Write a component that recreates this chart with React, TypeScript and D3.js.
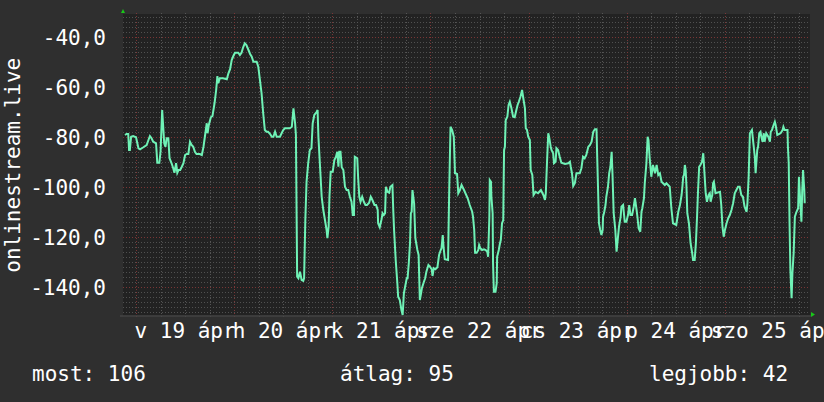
import React from 'react';
import * as d3 from 'd3';

// hours relative to 19 Apr 00:00
const hours = [
  -2.7, -2.3, -1.9, -1.7, -1.5, -1.2, -0.7, 0, 0.6, 1.0, 1.8, 2.6, 3.4, 3.8, 4.2, 4.9, 5.2, 5.7, 6.0, 6.4,
  6.7, 6.9, 7.2, 7.5, 7.9, 8.2, 8.7, 9.1, 9.4, 9.8, 10.1, 10.4, 10.8, 11.2, 11.6, 12.0, 12.4, 12.8, 13.2, 13.6,
  14.0, 14.4, 14.8, 15.6, 16.1, 16.5, 16.9, 17.3, 17.5, 17.8, 18.3, 18.7, 19.2, 19.6, 19.9, 20.1, 20.5, 21.3, 22.2, 22.6,
  23.0, 23.4, 23.8, 24.2, 25.0, 25.4, 25.8, 26.2, 26.6, 27.0, 27.5, 27.9, 28.3, 28.7, 29.5, 29.9, 30.3, 30.7, 31.1, 31.5,
  31.9, 32.3, 32.8, 33.2, 33.6, 34.0, 34.4, 35.2, 35.6, 36.0, 36.4, 37.6, 38.1, 38.5, 38.9, 39.1, 39.4, 39.7, 40.1, 40.5,
  40.9, 41.1, 41.4, 41.7, 42.1, 42.5, 42.9, 43.2, 43.6, 44.2, 44.4, 44.6, 45.0, 45.4, 45.8, 46.2, 46.6, 46.8, 47.1, 47.3,
  47.6, 48.1, 48.5, 48.9, 49.2, 49.5, 49.7, 50.0, 50.3, 50.7, 51.1, 51.5, 51.9, 52.3, 52.7, 53.0, 53.3, 53.5, 54.1, 54.3,
  54.6, 54.9, 55.3, 55.7, 56.1, 56.5, 57.0, 57.4, 57.8, 58.3, 58.7, 59.1, 59.2, 59.6, 60.0, 60.3, 60.6, 60.9, 61.1, 61.5,
  61.9, 62.2, 62.7, 62.9, 63.1, 63.5, 63.9, 64.1, 64.5, 64.9, 65.2, 65.5, 65.8, 66.2, 66.4, 66.7, 67.0, 67.2, 67.4, 67.6,
  68.0, 68.3, 68.8, 69.1, 69.4, 69.7, 69.9, 70.4, 70.7, 71.0, 71.5, 71.9, 72.3, 72.5, 72.8, 73.2, 73.7, 74.1, 74.5, 74.7,
  75.0, 75.2, 75.5, 76.3, 76.6, 76.9, 77.3, 77.7, 78.0, 78.5, 78.8, 79.2, 79.6, 80.2,
  81.1, 81.6, 82.2, 82.4, 82.7, 82.9, 83.3, 83.7, 83.9, 84.2, 84.6, 85.1, 85.5, 85.9, 86.1, 86.4, 86.5, 86.8, 86.9, 87.2,
  87.3, 87.5, 87.9, 88.2, 88.3, 88.7, 89.0, 89.2, 89.5, 89.8, 89.9, 90.0, 90.2, 90.4, 90.8, 91.1, 91.4, 91.8, 92.2, 92.6,
  93.0, 93.3, 93.6, 94.0, 94.4, 94.7, 95.1, 95.3, 95.6, 95.9, 96.3, 96.5, 96.9, 97.2, 97.7, 98.3, 99.0, 99.6, 100.0, 100.2,
  100.5, 100.8, 101.0, 101.4, 101.6, 102.0, 102.2, 102.6, 102.8, 103.2, 103.6, 104.0, 104.9, 105.7, 106.1, 106.3, 106.6, 106.9, 107.3, 107.7,
  108.5, 108.9, 109.3, 109.7, 110.1, 110.6, 111.0, 111.4, 111.8, 112.2, 112.6, 112.8, 113.2, 113.5, 113.8, 114.1, 114.2, 114.5, 114.8, 115.0,
  115.4, 115.7, 116.0, 116.3, 116.5, 116.8, 117.2, 117.5, 117.7, 118.1, 118.5, 118.7, 119.1, 119.5, 119.9, 120.3, 120.6, 120.9, 121.3, 121.7,
  122.0, 122.4, 122.6, 122.9, 123.3, 123.6, 123.8, 124.2, 124.4, 124.8, 125.1, 125.3, 125.6, 126.0, 126.4, 126.9, 127.3, 127.7, 128.1, 128.5,
  129.3, 129.7, 130.5, 130.9, 131.3, 132.1, 132.6, 133.0, 133.4, 133.6, 133.8, 134.0, 134.2, 134.4, 134.6, 134.8, 135.2, 135.6, 136.0, 136.2,
  136.6, 136.9, 137.2, 137.4, 137.7, 138.0, 138.4, 138.7, 138.9, 139.1, 139.3, 139.6, 140.0, 140.3, 140.5, 140.9, 141.1, 141.3, 141.7, 142.8,
  143.1, 143.4, 143.7, 144.0, 144.4, 144.8, 145.2, 145.6, 146.0, 146.4, 146.8, 147.2, 147.6, 148.0, 148.4, 148.8, 149.3, 149.5, 149.8, 150.1,
  150.6, 151.0, 151.3, 151.5, 151.9, 152.1, 152.4, 152.7, 152.9, 153.2, 153.5, 153.7, 154.1, 154.6, 155.0, 155.2, 155.5, 155.9, 156.2, 156.4,
  156.8, 157.6, 158.1, 158.3, 158.6, 159.3, 159.4, 159.6, 159.8, 160.0, 160.3, 160.5, 160.8, 161.1, 161.5, 161.9, 162.1, 162.4, 162.7, 162.9,
  163.1, 163.4, 163.5,
];

const values = [
  -79.2, -78.8, -78.8, -85.2, -85.2, -79.9, -79.6, -80.1, -84.5, -84.9, -84.1, -83.2, -79.6, -80.5, -81.9, -82.5, -90.3, -90.3, -85.9, -69.2,
  -77.2, -82.5, -83.9, -80.5, -80.5, -88.5, -90.5, -92.5, -94.3, -90.5, -94.3, -93.2, -93.2, -91.9, -90.5, -87.2, -86.8, -86.8, -81.9, -83.2,
  -83.9, -85.9, -86.8, -86.8, -87.2, -83.9, -79.2, -74.5, -78.5, -75.2, -72.1, -71.6, -66.5, -61.2, -55.6, -58.5, -56.5, -56.5, -56.9, -54.5,
  -52.9, -49.2, -47.6, -46.3, -46.3, -47.2, -46.3, -44.1, -42.5, -43.2, -45.2, -46.8, -47.9, -49.9, -49.9, -51.9, -57.2, -62.5, -70.5, -77.2,
  -77.9, -77.9, -78.8, -79.9, -79.9, -77.9, -79.9, -79.9, -78.5, -77.2, -76.5, -76.5, -75.9, -68.5, -74.5, -79.2, -135.9, -136.5, -133.9, -137.2,
  -137.5, -136.5, -113.2, -97.9, -90.5, -85.2, -84.5, -74.5, -71.2, -69.9, -69.2, -79.9, -91.9, -103.9, -109.2, -113.2, -117.2, -120.5, -115.9, -103.9,
  -93.9, -93.9, -89.2, -87.9, -85.9, -91.9, -85.9, -85.9, -92.1, -93.2, -99.9, -101.2, -101.2, -103.9, -105.9, -111.2, -111.2, -87.9, -88.5, -95.9,
  -103.9, -105.9, -103.9, -105.9, -107.2, -107.2, -106.3, -103.9, -105.2, -107.2, -107.2, -109.2, -114.5, -116.1, -113.2, -110.5, -111.2, -110.5, -99.9, -101.9,
  -102.3, -99.9, -99.2, -109.2, -117.2, -129.2, -138.5, -143.9, -145.2, -149.2, -151.2, -142.5, -139.9, -136.5, -136.5, -130.5, -122.5, -110.5, -109.9, -101.2,
  -106.5, -120.5, -125.2, -127.2, -145.2, -142.5, -140.5, -137.9, -136.5, -133.9, -131.2, -131.9, -132.9, -135.6, -132.5, -132.9, -132.1, -127.2, -125.2, -124.5,
  -119.2, -123.9, -128.9, -129.2, -99.9, -75.9, -77.2, -79.9, -94.5, -94.8, -102.5, -101.2, -99.2, -101.2,
  -104.5, -107.2, -109.9, -111.9, -117.2, -126.3, -126.3, -125.2, -123.2, -124.5, -125.2, -124.9, -125.2, -125.9, -127.9, -111.9, -97.2, -97.9, -103.9, -110.5,
  -130.5, -141.9, -141.9, -138.5, -127.9, -125.2, -122.5, -121.2, -114.5, -113.2, -97.2, -85.2, -83.9, -73.2, -71.9, -67.2, -65.9, -68.5, -71.9, -72.1,
  -69.2, -67.2, -65.9, -63.9, -61.2, -64.5, -68.5, -76.5, -77.2, -79.9, -81.2, -93.2, -95.2, -103.2, -101.9, -102.5, -101.2, -103.2, -105.2, -102.5,
  -89.9, -78.5, -79.9, -83.9, -85.2, -86.5, -90.5, -89.9, -84.5, -85.2, -87.9, -90.3, -90.8, -90.5, -89.9, -91.9, -94.5, -99.6, -98.5, -94.5,
  -94.5, -92.5, -87.9, -88.5, -87.2, -83.9, -83.2, -81.9, -77.9, -76.9, -76.9, -89.9, -114.5, -117.2, -119.2, -117.2, -111.9, -109.9, -107.2, -103.9,
  -99.9, -94.5, -91.9, -85.9, -94.5, -110.5, -117.2, -125.9, -122.5, -115.9, -111.9, -107.9, -107.2, -113.9, -113.9, -111.2, -107.2, -111.2, -111.2, -107.9,
  -104.5, -109.2, -111.9, -116.5, -117.9, -109.9, -108.5, -104.5, -98.5, -90.5, -79.9, -81.2, -88.5, -95.9, -91.2, -94.5, -91.2, -95.2, -94.5, -97.9,
  -99.2, -98.5, -99.9, -108.5, -114.5, -115.2, -109.9, -107.2, -103.2, -99.9, -95.9, -95.2, -91.2, -93.2, -99.9, -110.5, -114.5, -122.5, -126.5, -129.2,
  -129.2, -122.5, -111.2, -102.5, -91.9, -91.2, -89.9, -86.5, -91.9, -97.2, -102.5, -105.9, -103.2, -102.5, -105.9, -103.2, -98.5, -97.9, -102.5, -101.9,
  -107.2, -115.9, -119.9, -117.2, -114.5, -112.5, -111.2, -109.2, -106.5, -102.5, -101.2, -99.9, -99.9, -103.2, -103.9, -107.9, -109.9, -106.5, -95.9, -78.5,
  -77.2, -83.2, -87.9, -94.5, -85.2, -83.9, -78.5, -77.9, -79.9, -81.9, -78.5, -81.9, -78.5, -79.9, -81.9, -77.9, -77.2, -75.2, -73.9, -75.2,
  -79.2, -78.5, -77.2, -75.9, -77.2, -77.2, -83.9, -90.5, -114.5, -133.2, -144.5, -134.5, -126.5, -111.9, -109.9, -108.5, -95.9, -105.2, -113.9, -101.2,
  -93.2, -101.2, -106.5,
];

const dayLabels = ['v 19 ápr', 'h 20 ápr', 'k 21 ápr', 'sze 22 ápr', 'cs 23 ápr', 'p 24 ápr', 'szo 25 ápr'];
const yMajorTicks = [-40, -60, -80, -100, -120, -140];
const legendTexts = ['most: 106', 'átlag: 95', 'legjobb: 42'];
const axisTitle = 'onlinestream.live';

const FONT = '"DejaVu Sans Mono", monospace';

export default function App() {
  const W = 824;
  const H = 402;
  const left = 123;
  const right = 810;
  const top = 14;
  const bottom = 316.5;

  const x = d3.scaleLinear().domain([-3.18, 164.8]).range([left, right]);
  const y = d3.scaleLinear().domain([-151.8, -30.8]).range([bottom, top]);

  const pts = hours.map((h, i) => [h, values[i]] as [number, number]);
  const line = d3
    .line<[number, number]>()
    .x((d) => x(d[0]))
    .y((d) => y(d[1]));

  const minorX = d3.range(0, 165, 6).filter((h) => h % 24 !== 0);
  const majorX = d3.range(0, 165, 24);
  const minorY = d3.range(-150, -30, 2).filter((v) => v % 20 !== 0);
  const majorY = yMajorTicks;

  const legendX = [32, 340, 649];

  return (
    <svg
      width={W}
      height={H}
      style={{ position: 'absolute', left: 0, top: 0, display: 'block' }}
      fontFamily={FONT}
    >
      <rect x={0} y={0} width={W} height={H} fill="#2f2f2f" />
      <rect x={left} y={top} width={right - left} height={bottom - top} fill="#222222" />

      {/* minor grid */}
      {minorY.map((v) => (
        <line
          key={'my' + v}
          x1={left}
          x2={right}
          y1={Math.round(y(v)) + 0.5}
          y2={Math.round(y(v)) + 0.5}
          stroke="#505050"
          strokeWidth={1}
          strokeDasharray="1,2"
        />
      ))}
      {minorX.map((h) => (
        <line
          key={'mx' + h}
          x1={Math.round(x(h)) + 0.5}
          x2={Math.round(x(h)) + 0.5}
          y1={top - 1}
          y2={bottom + 1.5}
          stroke="#555555"
          strokeWidth={1}
          strokeDasharray="1,2"
        />
      ))}
      {/* major grid */}
      {majorY.map((v) => (
        <line
          key={'My' + v}
          x1={left}
          x2={right}
          y1={Math.round(y(v)) + 0.5}
          y2={Math.round(y(v)) + 0.5}
          stroke="#7a3636"
          strokeWidth={1}
          strokeDasharray="1,2"
        />
      ))}
      {majorX.map((h) => (
        <line
          key={'Mx' + h}
          x1={Math.round(x(h)) + 0.5}
          x2={Math.round(x(h)) + 0.5}
          y1={top - 1}
          y2={bottom + 1.5}
          stroke="#7a3636"
          strokeWidth={1}
          strokeDasharray="1,2"
        />
      ))}

      {/* x axis line */}
      <line x1={left - 3} x2={right + 1} y1={bottom - 0.5} y2={bottom - 0.5} stroke="#454545" strokeWidth={1.5} />

      {/* data line */}
      <path d={line(pts) || ''} fill="none" stroke="#6ff2b6" strokeWidth={2} strokeLinejoin="miter" />

      {/* arrows */}
      <path d={`M${left - 2},${top - 1} L${left + 2},${top - 1} L${left},${top - 5} Z`} fill="#19c819" />
      <path d={`M${right + 1},${bottom - 4.5} L${right + 1},${bottom + 0.5} L${right + 5},${bottom - 2} Z`} fill="#19c819" />

      {/* y labels */}
      {majorY.map((v) => (
        <text key={'yl' + v} x={106} y={y(v) + 8} textAnchor="end" fontSize={21} fill="#ffffff">
          {v.toFixed(1).replace('.', ',')}
        </text>
      ))}

      {/* x labels centered at noon */}
      {dayLabels.map((lab, i) => (
        <text key={'xl' + i} x={x(12 + 24 * i)} y={338} textAnchor="middle" fontSize={21} fill="#ffffff">
          {lab}
        </text>
      ))}

      {/* axis title */}
      <text
        transform={`translate(20, ${(top + bottom) / 2}) rotate(-90)`}
        textAnchor="middle"
        fontSize={21}
        fill="#ffffff"
      >
        {axisTitle}
      </text>

      {/* legend */}
      {legendTexts.map((t, i) => (
        <text key={'lg' + i} x={legendX[i]} y={381} fontSize={21} fill="#ffffff">
          {t}
        </text>
      ))}
    </svg>
  );
}
